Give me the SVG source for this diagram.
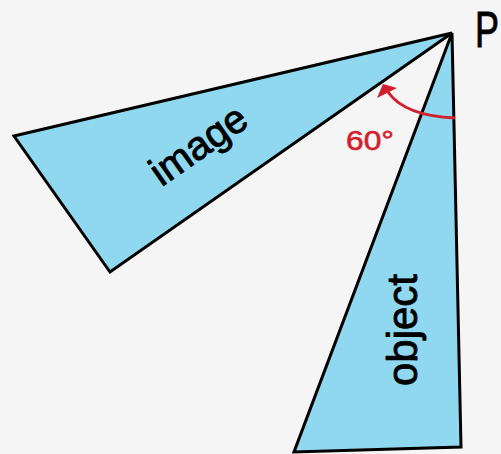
<svg xmlns="http://www.w3.org/2000/svg" width="501" height="454" viewBox="0 0 501 454">
<style>
.tri{fill:#8fd8ef;stroke:#000;stroke-width:3;stroke-linejoin:miter}
.lbl{font-family:"Liberation Sans",Arial,sans-serif;fill:#000;stroke:#000;stroke-width:0.9}
.red{font-family:"Liberation Sans",Arial,sans-serif;fill:#d21f2d;stroke:#d21f2d;stroke-width:0.6}
</style>
<rect width="501" height="454" fill="#f5f5f5"/>
<g id="image">
<polygon class="tri" points="452,33 14,136 110,272"/>
<text class="lbl" x="0" y="0" font-size="40" text-anchor="middle" transform="translate(206,156) rotate(-35)">image</text>
</g>
<g id="object">
<polygon class="tri" points="452,33 294,452 461,447"/>
<text class="lbl" x="0" y="0" font-size="42" text-anchor="middle" transform="translate(417,330) rotate(-90)">object</text>
</g>
<g id="P">
<text class="lbl" x="0" y="0" font-size="50" transform="translate(475,47) scale(0.72,1)">P</text>
</g>
<g id="connectors">
<path d="M455,118 Q405,116 388,92" fill="none" stroke="#d21f2d" stroke-width="3"/>
<polygon points="383,84 377,98 397,88" fill="#d21f2d"/>
</g>
<g id="angle">
<text class="red" x="346" y="150" font-size="28" textLength="48" lengthAdjust="spacingAndGlyphs">60°</text>
</g>
</svg>
